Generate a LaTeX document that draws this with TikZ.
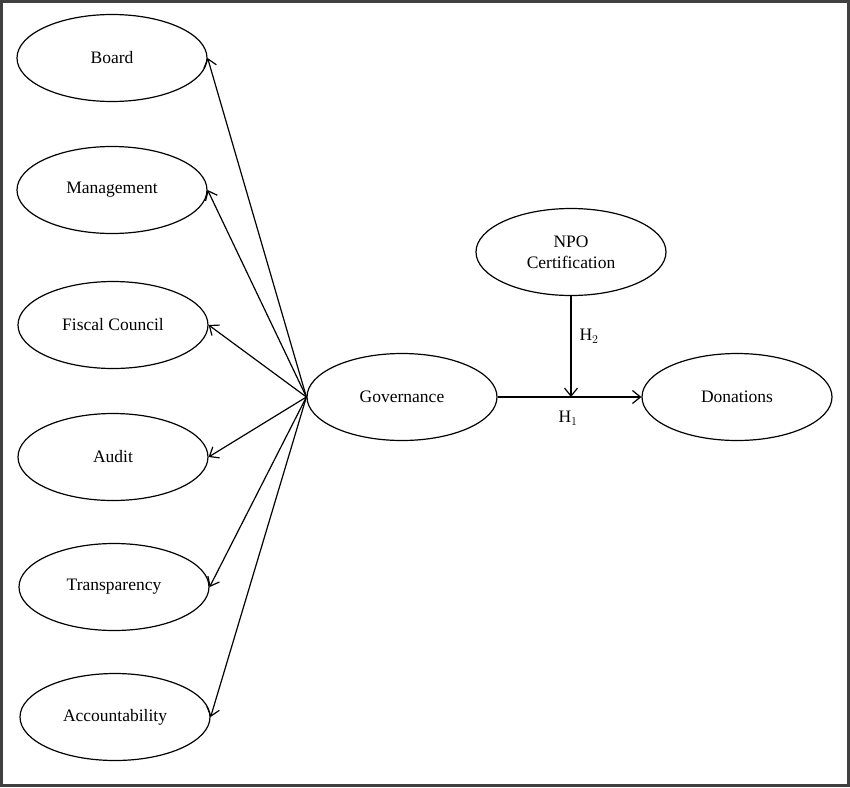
\documentclass[tikz,border=0pt]{standalone}
\usepackage{fontspec}
\setmainfont{Liberation Serif}
\usepackage{tikz}
\usetikzlibrary{shapes.geometric}
\usetikzlibrary{arrows.meta}

\begin{document}
\begin{tikzpicture}[x=1pt, y=-1pt, line width=1.2pt,
	construct/.style={ellipse, draw=black, minimum width=190pt, minimum height=87pt, inner sep=0pt, align=center, font=\fontsize{17.5}{21}\selectfont},
	link/.style={-{Straight Barb[length=8pt, width=13pt, line width=1.2pt]}},
	hyp/.style={font=\fontsize{17.5}{21}\selectfont}]
	\useasboundingbox (0,0) rectangle (850,787);
	\draw[line width=3pt, black!75] (1.5,1.5) rectangle (848.5,785.5);

	\node[construct] (board) at (112, 58) {Board};
	\node[construct] (management) at (112, 190) {Management};
	\node[construct] (fiscal) at (113, 325) {Fiscal Council};
	\node[construct] (audit) at (113, 457) {Audit};
	\node[construct] (transparency) at (114, 587) {Transparency};
	\node[construct] (accountability) at (115, 717) {Accountability};

	\node[construct] (governance) at (402, 397) {Governance};
	\node[construct] (donations) at (737, 397) {Donations};
	\node[construct] (npo) at (571, 252) {NPO\\Certification};

	\draw[link] (governance.west) -- (board.east);
	\draw[link] (governance.west) -- (management.east);
	\draw[link] (governance.west) -- (fiscal.east);
	\draw[link] (governance.west) -- (audit.east);
	\draw[link] (governance.west) -- (transparency.east);
	\draw[link] (governance.west) -- (accountability.east);

	\draw[link] (governance.east) -- (donations.west);
	\coordinate (moderation) at (npo.south |- governance.east);
	\draw[link] (npo.south) -- (moderation);

	\node[hyp] (htwo) at (589, 336) {H$_2$};
	\node[hyp] (hone) at (568, 418) {H$_1$};
\end{tikzpicture}
\end{document}
